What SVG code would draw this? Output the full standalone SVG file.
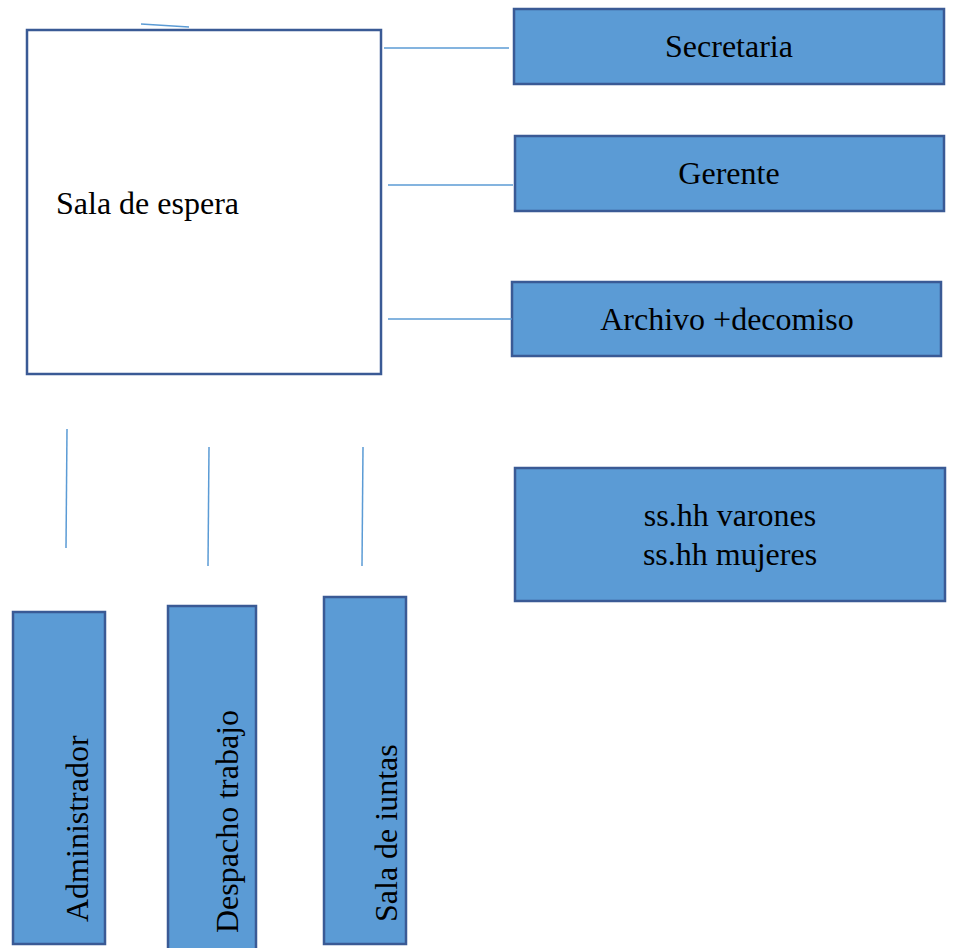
<svg xmlns="http://www.w3.org/2000/svg" width="953" height="948" viewBox="0 0 953 948">
<style>
.box{fill:#5B9BD5;stroke:#3A5A95;stroke-width:2.5}
.room{fill:#FFFFFF;stroke:#3A5A95;stroke-width:2.5}
.t{font-family:"Liberation Serif","Times New Roman",serif;font-size:32px;fill:#000}
.c{text-anchor:middle}
.ln{stroke:#5B9BD5;stroke-width:1.5;fill:none}
</style>
<rect width="953" height="948" fill="#FFFFFF"/>
<g id="sala-espera">
<rect class="room" x="27" y="30" width="354" height="344"/>
<text class="t" x="56" y="214">Sala de espera</text>
</g>
<g id="secretaria">
<rect class="box" x="514" y="9" width="430" height="75"/>
<text class="t c" x="729" y="57">Secretaria</text>
</g>
<g id="gerente">
<rect class="box" x="515" y="136" width="429" height="75"/>
<text class="t c" x="729" y="184">Gerente</text>
</g>
<g id="archivo">
<rect class="box" x="512" y="282" width="429" height="74"/>
<text class="t c" x="727" y="330">Archivo +decomiso</text>
</g>
<g id="sshh">
<rect class="box" x="515" y="468" width="430" height="133"/>
<text class="t c" x="730" y="526">ss.hh varones</text>
<text class="t c" x="730" y="565">ss.hh mujeres</text>
</g>
<g id="administrador">
<rect class="box" x="13" y="612" width="92" height="332"/>
<text class="t" transform="translate(88,922) rotate(-90)">Administrador</text>
</g>
<g id="despacho">
<rect class="box" x="168" y="606" width="88" height="344"/>
<text class="t" transform="translate(238,933) rotate(-90)">Despacho trabajo</text>
</g>
<g id="sala-juntas">
<rect class="box" x="324" y="597" width="82" height="347"/>
<text class="t" transform="translate(397,922) rotate(-90)">Sala de iuntas</text>
</g>
<g id="connectors">
<line class="ln" x1="141" y1="24" x2="189" y2="27"/>
<line class="ln" x1="384" y1="48" x2="509" y2="48"/>
<line class="ln" x1="388" y1="185" x2="513" y2="185"/>
<line class="ln" x1="388" y1="319" x2="512" y2="319"/>
<line class="ln" x1="67" y1="429" x2="66" y2="548"/>
<line class="ln" x1="209" y1="447" x2="208" y2="566"/>
<line class="ln" x1="363" y1="447" x2="362" y2="566"/>
</g>
</svg>
